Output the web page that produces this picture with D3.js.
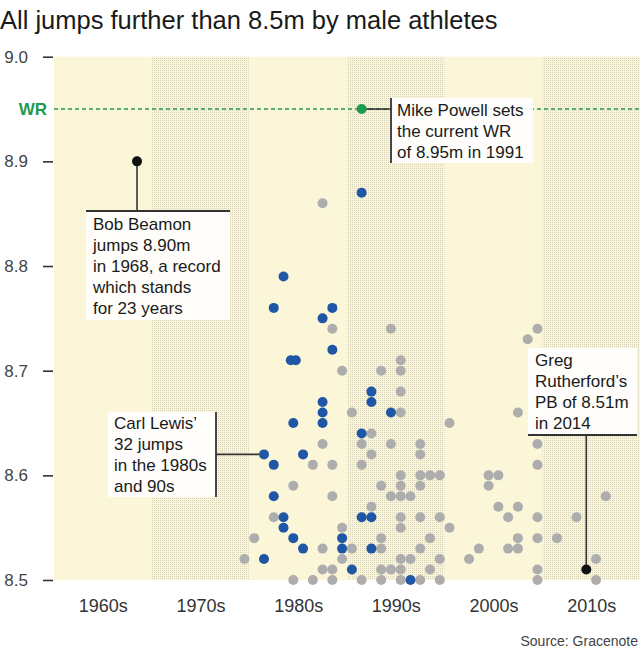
<!DOCTYPE html>
<html>
<head>
<meta charset="utf-8">
<script src="https://cdn.jsdelivr.net/npm/d3@7"></script>
<style>
  html, body { margin: 0; padding: 0; background: #fff; }
  svg { display: block; font-family: "Liberation Sans", Arial, Helvetica, sans-serif; }
</style>
</head>
<body>
<svg id="chart" width="640" height="656"></svg>
<script>
// ---------------- DATA ----------------
const decades = [1960, 1970, 1980, 1990, 2000, 2010];
const decadeLabels = ["1960s", "1970s", "1980s", "1990s", "2000s", "2010s"];
const yTicks = [8.5, 8.6, 8.7, 8.8, 8.9, 9.0];
const worldRecord = 8.95;

// Carl Lewis (32 jumps)
const lewisYears = [1981,1981,1982,1982,1982,1983,1983,1983,1984,1984,1984,1984,1985,1985,
  1987,1987,1987,1987,1988,1988,1989,1989,1990,1991,1991,1991,1992,1992,1992,1992,1994,1996];
const lewisDistances = [8.62,8.52,8.76,8.61,8.58,8.79,8.56,8.55,8.71,8.71,8.65,8.54,8.62,8.53,
  8.75,8.67,8.66,8.65,8.76,8.72,8.54,8.53,8.51,8.87,8.64,8.56,8.68,8.67,8.56,8.53,8.66,8.50];

// All other jumps
const otherYears = [1979,1980,1982,1984,1984,1986,1986,1987,1987,1987,1987,
  1988,1988,1988,1988,1988,1989,1989,1989,1990,1990,1991,1991,1991,1992,1992,1992,
  1993,1993,1993,1993,1993,1993,1994,1994,1994,1994,
  1995,1995,1995,1995,1995,1995,1995,1995,1995,1995,1995,1995,
  1996,1996,1997,1997,1997,1997,1997,1997,1997,1998,1998,1998,1999,1999,1999,1999,
  2000,2000,2002,2003,2004,2004,2005,2005,2006,2006,2007,2007,2007,2007,2008,
  2009,2009,2009,2009,2009,2009,2009,2011,2013,2015,2015,2016];
const otherDistances = [8.52,8.54,8.56,8.59,8.50,8.61,8.50,8.86,8.63,8.53,8.51,
  8.74,8.61,8.58,8.51,8.50,8.70,8.55,8.52,8.66,8.53,8.63,8.61,8.50,8.64,8.62,8.57,
  8.70,8.59,8.54,8.53,8.51,8.50,8.74,8.63,8.58,8.51,
  8.71,8.70,8.68,8.66,8.60,8.59,8.58,8.56,8.55,8.52,8.51,8.50,
  8.58,8.52,8.63,8.62,8.60,8.59,8.56,8.53,8.50,8.60,8.54,8.51,8.60,8.56,8.52,8.50,
  8.65,8.55,8.52,8.53,8.60,8.59,8.60,8.57,8.56,8.53,8.66,8.57,8.54,8.53,8.73,
  8.74,8.63,8.61,8.56,8.54,8.51,8.50,8.54,8.56,8.52,8.50,8.58];

// Highlighted jumps
const beamon = {year: 1968, distance: 8.90};
const powell = {year: 1991, distance: 8.95};
const rutherford = {year: 2014, distance: 8.51};

// ---------------- CHART ----------------
const svg = d3.select("#chart");
const plotLeft = 54, plotRight = 640, plotTop = 56.7, plotBottom = 580;

const x = d3.scaleLinear().domain([1960, 2020]).range([plotLeft, plotRight]);
const y = d3.scaleLinear().domain([8.5, 9.0]).range([plotBottom, plotTop]);
const cx = yr => x(yr + 0.5);

// pattern for dotted bands
const defs = svg.append("defs");
const pat = defs.append("pattern").attr("id", "dots").attr("patternUnits", "userSpaceOnUse")
  .attr("width", 2).attr("height", 2);
pat.append("rect").attr("width", 2).attr("height", 2).attr("fill", "#fbf5d8");
pat.append("rect").attr("width", 1).attr("height", 1).attr("fill", "#d9d4bd");

// title
svg.append("text").attr("x", 0).attr("y", 29)
  .attr("font-size", 25.5).attr("fill", "#1a1a1a")
  .text("All jumps further than 8.5m by male athletes");

// bands
svg.append("g").selectAll("rect").data(decades).join("rect")
  .attr("x", d => x(d)).attr("width", d => x(d + 10) - x(d))
  .attr("y", plotTop).attr("height", plotBottom - plotTop)
  .attr("fill", (d, i) => i % 2 === 0 ? "#fcf6d9" : "url(#dots)");

// y axis
const yAxis = svg.append("g").attr("transform", `translate(${plotLeft - 1},0)`)
  .call(d3.axisLeft(y).tickValues(yTicks).tickFormat(d3.format(".1f")).tickSize(10).tickPadding(15));
yAxis.select(".domain").remove();
yAxis.selectAll("line").attr("stroke", "#333").attr("stroke-width", 1.6);
yAxis.selectAll("text").attr("font-size", 17).attr("fill", "#444")
  .attr("font-family", "Liberation Sans, Arial, sans-serif");

// x axis labels
const xAxis = svg.append("g").attr("transform", `translate(0,${plotBottom})`)
  .call(d3.axisBottom(x).tickValues(decades.map(d => d + 5))
    .tickFormat((d, i) => decadeLabels[i]).tickSize(0).tickPadding(19));
xAxis.select(".domain").remove();
xAxis.selectAll("text").attr("font-size", 18).attr("fill", "#333")
  .attr("font-family", "Liberation Sans, Arial, sans-serif");

// WR line
svg.append("line")
  .attr("x1", plotLeft).attr("x2", plotRight)
  .attr("y1", y(worldRecord)).attr("y2", y(worldRecord))
  .attr("stroke", "#1f9b50").attr("stroke-width", 1.6).attr("stroke-dasharray", "4,3");
svg.append("text").attr("x", 47).attr("y", y(worldRecord)).attr("dy", "0.36em")
  .attr("text-anchor", "end").attr("font-size", 17).attr("font-weight", "bold")
  .attr("fill", "#1f9b50").text("WR");

// build point list with small offsets for identical jumps
function buildPoints(years, dists, kind) {
  const pts = years.map((yr, i) => ({year: yr, distance: dists[i], kind}));
  const groups = d3.group(pts, d => d.year + "|" + d.distance);
  groups.forEach(g => {
    g.forEach((p, i) => { p.off = g.length > 1 ? (i - (g.length - 1) / 2) * 5 : 0; });
  });
  return pts;
}
const others = buildPoints(otherYears, otherDistances, "other");
const lewis = buildPoints(lewisYears, lewisDistances, "lewis");

const R = 5;
svg.append("g").selectAll("circle").data(others).join("circle")
  .attr("cx", d => cx(d.year) + d.off).attr("cy", d => y(d.distance)).attr("r", R)
  .attr("fill", "#adadad");
svg.append("g").selectAll("circle").data(lewis).join("circle")
  .attr("cx", d => cx(d.year) + d.off).attr("cy", d => y(d.distance)).attr("r", R)
  .attr("fill", "#1f56a6");

// annotation helper
function textBlock(lines, x0, yFirst) {
  const t = svg.append("text").attr("font-size", 17).attr("fill", "#1a1a1a");
  lines.forEach((l, i) => t.append("tspan").attr("x", x0).attr("y", yFirst + i * 21).text(l));
}
const lineCol = "#333";

// --- Beamon ---
{
  const bx = cx(beamon.year), by = y(beamon.distance);
  svg.append("rect").attr("x", 86).attr("y", 211).attr("width", 144).attr("height", 109)
    .attr("fill", "#fff").attr("opacity", 0.88);
  svg.append("line").attr("x1", bx).attr("x2", bx).attr("y1", by).attr("y2", 211)
    .attr("stroke", lineCol).attr("stroke-width", 1.6);
  svg.append("line").attr("x1", 86).attr("x2", 230).attr("y1", 211).attr("y2", 211)
    .attr("stroke", lineCol).attr("stroke-width", 1.8);
  svg.append("circle").attr("cx", bx).attr("cy", by).attr("r", R).attr("fill", "#111");
  textBlock(["Bob Beamon", "jumps 8.90m", "in 1968, a record", "which stands", "for 23 years"], 93, 230);
}

// --- Powell ---
{
  const px = cx(powell.year), py = y(powell.distance);
  svg.append("rect").attr("x", 391).attr("y", 98).attr("width", 142).attr("height", 65)
    .attr("fill", "#fff").attr("opacity", 0.9);
  svg.append("line").attr("x1", px).attr("x2", 391).attr("y1", py).attr("y2", py)
    .attr("stroke", lineCol).attr("stroke-width", 1.6);
  svg.append("line").attr("x1", 391).attr("x2", 391).attr("y1", 98).attr("y2", 163)
    .attr("stroke", lineCol).attr("stroke-width", 1.8);
  svg.append("circle").attr("cx", px).attr("cy", py).attr("r", R).attr("fill", "#1f9b50");
  textBlock(["Mike Powell sets", "the current WR", "of 8.95m in 1991"], 397, 116);
}

// --- Lewis ---
{
  const lx = cx(1981), ly = y(8.62);
  svg.append("rect").attr("x", 108).attr("y", 412).attr("width", 108).attr("height", 85)
    .attr("fill", "#fff").attr("opacity", 0.9);
  svg.append("line").attr("x1", 216).attr("x2", 216).attr("y1", 412).attr("y2", 497)
    .attr("stroke", lineCol).attr("stroke-width", 1.8);
  svg.append("line").attr("x1", 216).attr("x2", lx - R).attr("y1", ly).attr("y2", ly)
    .attr("stroke", lineCol).attr("stroke-width", 1.6);
  textBlock(["Carl Lewis\u2019", "32 jumps", "in the 1980s", "and 90s"], 114, 429);
}

// --- Rutherford ---
{
  const rx = cx(rutherford.year), ry = y(rutherford.distance);
  svg.append("rect").attr("x", 528).attr("y", 348).attr("width", 109).attr("height", 87)
    .attr("fill", "#fff").attr("opacity", 0.9);
  svg.append("line").attr("x1", 528).attr("x2", 637).attr("y1", 435).attr("y2", 435)
    .attr("stroke", lineCol).attr("stroke-width", 1.8);
  svg.append("line").attr("x1", rx).attr("x2", rx).attr("y1", 435).attr("y2", ry)
    .attr("stroke", lineCol).attr("stroke-width", 1.6);
  svg.append("circle").attr("cx", rx).attr("cy", ry).attr("r", R).attr("fill", "#111");
  textBlock(["Greg", "Rutherford\u2019s", "PB of 8.51m", "in 2014"], 535, 366);
}

// source
svg.append("text").attr("x", 638).attr("y", 646).attr("text-anchor", "end")
  .attr("font-size", 14).attr("fill", "#444").text("Source: Gracenote");
</script>
</body>
</html>
